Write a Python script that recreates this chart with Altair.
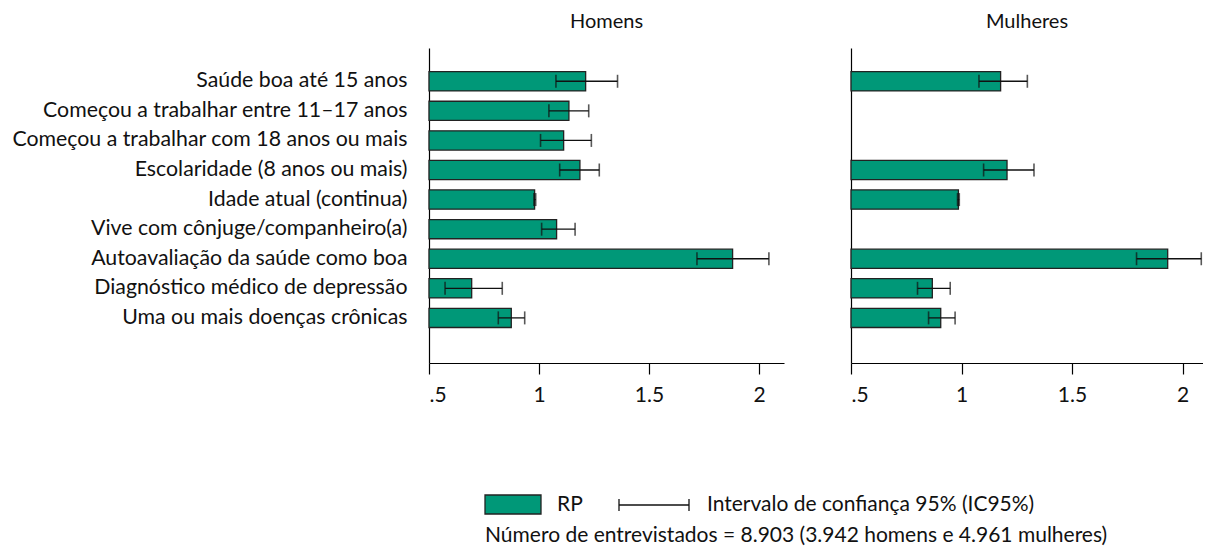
import altair as alt
import pandas as pd

CATEGORIES = [
    "Saúde boa até 15 anos",
    "Começou a trabalhar entre 11–17 anos",
    "Começou a trabalhar com 18 anos ou mais",
    "Escolaridade (8 anos ou mais)",
    "Idade atual (continua)",
    "Vive com cônjuge/companheiro(a)",
    "Autoavaliação da saúde como boa",
    "Diagnóstico médico de depressão",
    "Uma ou mais doenças crônicas",
]
HOMENS_RP = [1.212, 1.136, 1.112, 1.186, 0.980, 1.080, 1.880, 0.694, 0.874]
HOMENS_LO = [1.077, 1.045, 1.007, 1.094, 0.977, 1.012, 1.718, 0.573, 0.815]
HOMENS_HI = [1.357, 1.226, 1.238, 1.274, 0.985, 1.164, 2.045, 0.833, 0.935]
MULHERES_RP = [1.177, None, None, 1.206, 0.986, None, 1.933, 0.868, 0.906]
MULHERES_LO = [1.079, None, None, 1.100, 0.982, None, 1.792, 0.801, 0.851]
MULHERES_HI = [1.298, None, None, 1.328, 0.990, None, 2.085, 0.949, 0.971]

TICK_VALUES = [0.5, 1, 1.5, 2]
PANEL_TITLES = ["Homens", "Mulheres"]
LEGEND_RP = "RP"
LEGEND_IC = "Intervalo de confiança 95% (IC95%)"
NOTE = "Número de entrevistados = 8.903 (3.942 homens e 4.961 mulheres)"

FONT = "Lato"
FS = 21
GREEN = "#009878"
H = 315


def make_df(rp, lo, hi):
    df = pd.DataFrame({"cat": CATEGORIES, "rp": rp, "lo": lo, "hi": hi})
    return df.dropna().reset_index(drop=True)


def panel(df, title, show_labels, width, xmax):
    base = alt.Chart(df)
    x_scale = alt.Scale(domain=[0.5, xmax], nice=False, zero=False)
    y = alt.Y(
        "cat:N",
        sort=CATEGORIES,
        scale=alt.Scale(domain=CATEGORIES, paddingInner=0.35, paddingOuter=1.0, align=0.4),
        axis=alt.Axis(
            title=None,
            labels=show_labels,
            ticks=False,
            labelPadding=22,
            labelLimit=600,
            labelFontSize=21.3,
            domainColor="#000",
            domainWidth=1.2,
        ),
    )
    x_axis = alt.Axis(
        title=None,
        values=TICK_VALUES,
        labelExpr="replace(toString(datum.value), /^0/, '')",
        tickSize=11,
        labelFontSize=FS,
        labelPadding=10,
        domainColor="#000",
        tickColor="#000",
        domainWidth=1.2,
        tickWidth=1.2,
        grid=False,
    )
    bars = base.mark_bar(color=GREEN, stroke="#222", strokeWidth=1.3).encode(
        x=alt.X("rp:Q", scale=x_scale, axis=x_axis),
        x2=alt.datum(0.5),
        y=y,
    )
    rule = base.mark_rule(color="#111", strokeWidth=1.3).encode(
        x="lo:Q", x2="hi:Q", y=alt.Y("cat:N", sort=CATEGORIES)
    )
    cap_lo = base.mark_tick(color="#111", thickness=1.6, size=13).encode(
        x="lo:Q", y=alt.Y("cat:N", sort=CATEGORIES)
    )
    cap_hi = base.mark_tick(color="#111", thickness=1.6, size=13).encode(
        x="hi:Q", y=alt.Y("cat:N", sort=CATEGORIES)
    )
    return alt.layer(bars, rule, cap_lo, cap_hi).properties(
        width=width,
        height=H,
        title=alt.TitleParams(title, fontSize=FS - 1, fontWeight="normal", font=FONT, anchor="middle", offset=16, color="#111"),
    )


homens = panel(make_df(HOMENS_RP, HOMENS_LO, HOMENS_HI), PANEL_TITLES[0], True, 355, 0.5 + 355 / 220)
mulheres = panel(make_df(MULHERES_RP, MULHERES_LO, MULHERES_HI), PANEL_TITLES[1], False, 352, 0.5 + 352 / 221)

top = alt.hconcat(homens, mulheres, spacing=66)

leg_df = pd.DataFrame({"k": [0]})
lbase = alt.Chart(leg_df)
txt = dict(align="left", baseline="middle", fontSize=FS, font=FONT, color="#111")
leg_rect = lbase.mark_rect(color=GREEN, stroke="#222", strokeWidth=1.3).encode(
    x=alt.value(56), x2=alt.value(112), y=alt.value(10), y2=alt.value(29)
)
leg_rp = lbase.mark_text(**txt).encode(x=alt.value(128), y=alt.value(20), text=alt.value(LEGEND_RP))
leg_rule = lbase.mark_rule(color="#111", strokeWidth=1.3).encode(
    x=alt.value(190), x2=alt.value(260), y=alt.value(20)
)
leg_c1 = lbase.mark_rule(color="#111", strokeWidth=1.3).encode(
    x=alt.value(190), y=alt.value(14), y2=alt.value(26)
)
leg_c2 = lbase.mark_rule(color="#111", strokeWidth=1.3).encode(
    x=alt.value(260), y=alt.value(14), y2=alt.value(26)
)
leg_ic = lbase.mark_text(**txt).encode(x=alt.value(278), y=alt.value(20), text=alt.value(LEGEND_IC))
leg_note = lbase.mark_text(**txt).encode(x=alt.value(56), y=alt.value(51), text=alt.value(NOTE))
legend = alt.layer(leg_rect, leg_rp, leg_rule, leg_c1, leg_c2, leg_ic, leg_note).properties(width=700, height=60)

chart = (
    alt.vconcat(top, legend, spacing=80)
    .properties(padding={"left": 3, "right": 0, "top": 4, "bottom": 0})
    .configure(font=FONT)
    .configure_view(stroke=None)
    .configure_axis(labelFont=FONT, labelColor="#111")
)

chart.save("out.html", embed_options={"renderer": "svg", "actions": False})
